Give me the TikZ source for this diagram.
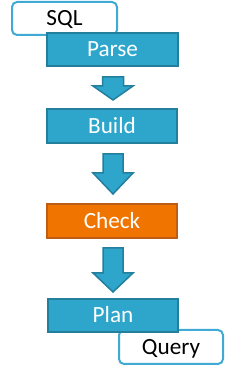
\documentclass[tikz,border=0pt]{standalone}
\usepackage{fontspec}
\setmainfont{Carlito}
\begin{document}
\begin{tikzpicture}[x=1pt,y=1pt,
  boxfont/.style={font=\fontsize{23.2}{27}\selectfont, text height=15pt, text depth=0pt, inner sep=0pt},
  stepbox/.style={boxfont, draw=bluedark, fill=bluefill, line width=2pt, text=white},
  checkbox/.style={boxfont, draw=orangedark, fill=orangefill, line width=2pt, text=white},
  iobox/.style={boxfont, draw=lightblue, fill=white, line width=2pt, rounded corners=5pt, text=black},
  blockarrow/.style={draw=bluedark, fill=bluefill, line width=1.5pt, line join=miter}
]
\definecolor{bluefill}{HTML}{2EA6CC}
\definecolor{bluedark}{HTML}{247F9C}
\definecolor{orangefill}{HTML}{F07400}
\definecolor{orangedark}{HTML}{BD5E14}
\definecolor{lightblue}{HTML}{3FAAD4}
\useasboundingbox (0,0) rectangle (230,371);

\node[iobox, minimum width=105pt, minimum height=33pt] (sql) at (64.5,352.5) {SQL};
\node[stepbox, minimum width=131pt, minimum height=33pt] (parse) at (112.5,321.5) {Parse};
\node[stepbox, minimum width=130pt, minimum height=34pt] (build) at (112,244.75) {Build};
\node[checkbox, minimum width=130pt, minimum height=34pt] (check) at (112,150) {Check};
\node[iobox, minimum width=104pt, minimum height=34pt] (query) at (171,24) {Query};
\node[stepbox, minimum width=130pt, minimum height=33pt] (plan) at (113,55.5) {Plan};

% block arrows
\draw[blockarrow] (102.5,294) -- (123.5,294) -- (123.5,285) -- (133,285) -- (113,271) -- (93,285) -- (102.5,285) -- cycle;
\draw[blockarrow] (103,217) -- (123,217) -- (123,198) -- (133,198) -- (113,177) -- (93,198) -- (103,198) -- cycle;
\draw[blockarrow] (103,123) -- (123,123) -- (123,98) -- (133,98) -- (113,79) -- (93,98) -- (103,98) -- cycle;
\end{tikzpicture}
\end{document}
